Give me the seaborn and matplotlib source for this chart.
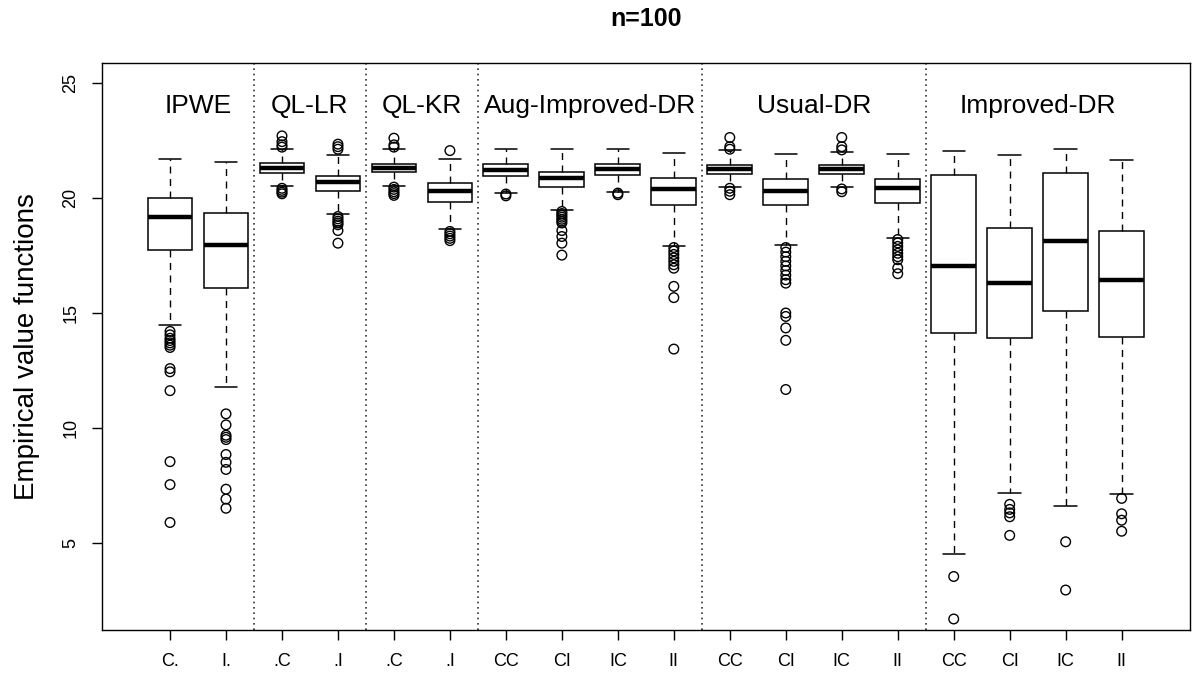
import numpy as np
import pandas as pd
import matplotlib
matplotlib.use("Agg")
import matplotlib.pyplot as plt
import seaborn as sns

# tick labels of the 18 boxes and the method groups they belong to
box_labels = ['C.', 'I.', '.C', '.I', '.C', '.I',
              'CC', 'CI', 'IC', 'II', 'CC', 'CI', 'IC', 'II',
              'CC', 'CI', 'IC', 'II']
group_names = ['IPWE', 'QL-LR', 'QL-KR', 'Aug-Improved-DR', 'Usual-DR', 'Improved-DR']
group_sizes = [2, 2, 2, 4, 4, 4]

# five-number summaries
whisker_lo = [14.46, 11.78, 20.55, 19.30, 20.55, 18.65,
              20.24, 19.48, 20.26, 17.92, 20.48, 17.96, 20.48, 18.27,
              4.53, 7.17, 6.62, 7.10]
quart_1 = [17.75, 16.11, 21.10, 20.30, 21.13, 19.84,
           20.97, 20.49, 21.00, 19.70, 21.06, 19.68, 21.04, 19.78,
           14.12, 13.92, 15.09, 13.96]
medians = [19.16, 17.96, 21.30, 20.70, 21.32, 20.30,
           21.23, 20.87, 21.26, 20.39, 21.27, 20.32, 21.27, 20.42,
           17.03, 16.30, 18.12, 16.45]
quart_3 = [20.00, 19.37, 21.52, 20.98, 21.49, 20.65,
           21.48, 21.14, 21.48, 20.88, 21.45, 20.83, 21.43, 20.85,
           21.01, 18.70, 21.11, 18.59]
whisker_hi = [21.71, 21.57, 22.13, 21.87, 22.13, 21.72,
              22.13, 22.13, 22.14, 21.96, 22.10, 21.91, 22.03, 21.91,
              22.07, 21.88, 22.13, 21.67]

# outlying points per box
outliers = [
    [14.2, 14.05, 13.9, 13.8, 13.7, 13.6, 13.5, 12.58, 12.44, 11.62, 8.53, 7.53, 5.88],
    [10.61, 10.13, 9.68, 9.59, 9.49, 8.84, 8.50, 8.19, 7.33, 6.90, 6.50],
    [22.71, 22.46, 22.32, 22.22, 20.43, 20.34, 20.26, 20.19],
    [22.35, 22.24, 22.13, 19.2, 19.1, 19.0, 18.92, 18.84, 18.59, 18.04],
    [22.61, 22.32, 22.22, 20.48, 20.38, 20.28, 20.2, 20.12],
    [22.07, 18.55, 18.45, 18.35, 18.25, 18.15],
    [20.18, 20.1],
    [19.42, 19.33, 19.25, 19.17, 19.08, 19.0, 18.92, 18.59, 18.33, 18.04, 17.52],
    [20.22, 20.15],
    [17.85, 17.7, 17.55, 17.4, 17.25, 17.1, 16.95, 16.16, 15.67, 13.43],
    [22.64, 22.24, 22.13, 20.43, 20.3, 20.15],
    [17.85, 17.65, 17.45, 17.25, 17.05, 16.85, 16.65, 16.45, 16.3,
     15.0, 14.85, 14.35, 13.81, 11.67],
    [22.64, 22.24, 22.1, 20.4, 20.28],
    [18.2, 18.05, 17.9, 17.75, 17.6, 17.45, 17.32, 16.96, 16.71],
    [3.53, 1.68],
    [6.67, 6.45, 6.30, 6.13, 5.32],
    [5.04, 2.94],
    [6.93, 6.26, 5.98, 5.50],
]

sns.set_theme(style="white")
plt.rcParams['font.family'] = ['Liberation Sans', 'DejaVu Sans']
plt.rcParams.update({'text.color': 'black', 'axes.labelcolor': 'black',
                     'xtick.color': 'black', 'ytick.color': 'black'})

positions = np.arange(1, len(box_labels) + 1)
stats = []
for i in range(len(box_labels)):
    stats.append({'whislo': whisker_lo[i], 'q1': quart_1[i], 'med': medians[i],
                  'q3': quart_3[i], 'whishi': whisker_hi[i], 'fliers': []})

fig = plt.figure(figsize=(11.94, 6.77), dpi=100)
ax = fig.add_axes([0.0852, 0.0694, 0.9114, 0.8371])

ax.bxp(stats, positions=positions, widths=0.8, capwidths=0.4, showfliers=False,
       patch_artist=True,
       boxprops=dict(facecolor='white', edgecolor='black', linewidth=1.1),
       medianprops=dict(color='black', linewidth=3.2, solid_capstyle='butt'),
       whiskerprops=dict(color='black', linewidth=1.0, linestyle=(0, (5, 4))),
       capprops=dict(color='black', linewidth=1.1))

# outliers as open circles
out_df = pd.DataFrame({
    'pos': np.concatenate([[p] * len(o) for p, o in zip(positions, outliers)]),
    'value': np.concatenate(outliers),
})
sns.scatterplot(data=out_df, x='pos', y='value', marker='o', s=48,
                facecolors='none', edgecolor='black', linewidth=1.0, ax=ax,
                zorder=4, legend=False)

# group separators and group names
bounds = np.cumsum(group_sizes)
for b in bounds[:-1]:
    ax.axvline(b + 0.5, color='#333333', linestyle=(0, (1, 2.2)), linewidth=1.2, zorder=1)
starts = np.concatenate([[0], bounds[:-1]])
for name, s0, n in zip(group_names, starts, group_sizes):
    ax.text(s0 + (n + 1) / 2, 24.0, name, ha='center', va='center', fontsize=19)

ax.set_xlim(-0.22, 19.22)
ax.set_ylim(1.2, 25.87)
ax.set_xticks(positions)
ax.set_xticklabels(box_labels, fontsize=13)
ax.set_yticks([5, 10, 15, 20, 25])
ax.set_yticklabels(['5', '10', '15', '20', '25'], fontsize=13, rotation=90, va='center')
ax.tick_params(axis='both', direction='out', length=7.2, width=1, color='black',
               pad=9, bottom=True, left=True)
ax.set_xlabel('')
ax.set_ylabel('Empirical value functions', fontsize=20)
ax.yaxis.set_label_coords(-0.057, 0.5)
for sp in ax.spines.values():
    sp.set_color('black')
    sp.set_linewidth(1.0)

fig.text(0.541, 0.972, 'n=100', ha='center', va='center', fontsize=18, fontweight='bold')

fig.savefig('out.png', dpi=100)
